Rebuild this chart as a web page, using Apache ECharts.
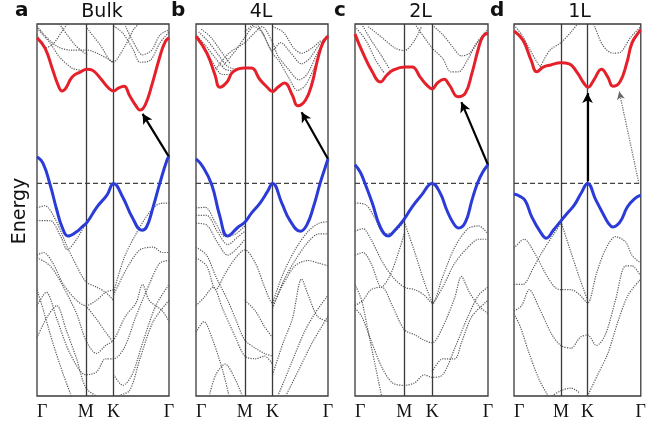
<!DOCTYPE html>
<html><head><meta charset="utf-8">
<script src="https://cdn.jsdelivr.net/npm/echarts@6/dist/echarts.min.js"></script>
<style>html,body{margin:0;padding:0;background:#fff}#c{width:649px;height:425px}</style>
</head><body><div id="c"></div>
<script>
// ---- axis / labels ----
const kPos = [0, 0.37, 0.58, 1];
const kLabels = ['Γ', 'M', 'K', 'Γ'];
const symLines = [0.37, 0.58];           // M and K high-symmetry positions
const panelLetters = ['a', 'b', 'c', 'd'];
const panelTitles = ['Bulk', '4L', '2L', '1L'];
const fermi = [[0, 0], [1, 0]];

// ---- conduction band (red) ----
const redA = [[0,2.74],[0.06,2.55],[0.12,2.13],[0.16,1.85],[0.19,1.74],[0.22,1.80],[0.265,2.0],[0.33,2.10],[0.38,2.15],[0.42,2.13],[0.48,1.98],[0.54,1.80],[0.58,1.74],[0.62,1.80],[0.66,1.83],[0.70,1.66],[0.75,1.46],[0.78,1.38],[0.82,1.48],[0.87,1.85],[0.93,2.38],[0.97,2.66],[1,2.74]];
const redB = [[0,2.77],[0.083,2.45],[0.144,2.04],[0.18,1.81],[0.235,1.91],[0.28,2.10],[0.37,2.17],[0.42,2.17],[0.485,1.95],[0.54,1.81],[0.58,1.73],[0.62,1.81],[0.67,1.89],[0.73,1.66],[0.77,1.46],[0.83,1.57],[0.88,1.89],[0.92,2.32],[0.96,2.64],[1,2.77]];
const redC = [[0,2.81],[0.06,2.45],[0.13,2.10],[0.19,1.91],[0.24,2.04],[0.285,2.13],[0.375,2.19],[0.43,2.19],[0.49,2.0],[0.54,1.85],[0.58,1.78],[0.62,1.89],[0.67,1.96],[0.71,1.85],[0.775,1.63],[0.83,1.70],[0.88,2.08],[0.925,2.51],[0.96,2.76],[1,2.83]];
const redD = [[0,2.87],[0.07,2.70],[0.135,2.32],[0.18,2.10],[0.23,2.19],[0.29,2.23],[0.37,2.27],[0.435,2.25],[0.50,2.08],[0.55,1.89],[0.585,1.81],[0.63,1.95],[0.69,2.15],[0.74,2.0],[0.78,1.83],[0.835,1.91],[0.89,2.27],[0.93,2.64],[0.985,2.85],[1,2.89]];

// ---- valence band (blue) ----
const blueA = [[0,0.50],[0.045,0.38],[0.10,-0.03],[0.15,-0.50],[0.19,-0.82],[0.235,-0.99],[0.30,-0.91],[0.34,-0.82],[0.38,-0.73],[0.455,-0.44],[0.53,-0.22],[0.58,0.0],[0.65,-0.26],[0.72,-0.63],[0.795,-0.88],[0.83,-0.82],[0.88,-0.44],[0.93,0.0],[0.985,0.44],[1,0.50]];
const blueB = [[0,0.46],[0.053,0.31],[0.12,-0.03],[0.18,-0.61],[0.24,-0.99],[0.32,-0.82],[0.37,-0.73],[0.42,-0.56],[0.485,-0.37],[0.54,-0.16],[0.58,0.0],[0.65,-0.37],[0.71,-0.69],[0.79,-0.90],[0.84,-0.78],[0.89,-0.44],[0.94,0.0],[0.98,0.31],[1,0.46]];
const blueC = [[0,0.35],[0.04,0.21],[0.075,0.0],[0.13,-0.37],[0.19,-0.82],[0.25,-0.99],[0.30,-0.88],[0.37,-0.67],[0.43,-0.44],[0.50,-0.22],[0.58,0.0],[0.64,-0.18],[0.69,-0.50],[0.74,-0.75],[0.78,-0.84],[0.83,-0.73],[0.88,-0.31],[0.92,0.0],[0.96,0.21],[1,0.35]];
const blueD = [[0,-0.20],[0.045,-0.24],[0.09,-0.33],[0.14,-0.63],[0.21,-0.92],[0.255,-1.03],[0.31,-0.88],[0.375,-0.69],[0.42,-0.56],[0.475,-0.41],[0.53,-0.18],[0.58,0.0],[0.645,-0.31],[0.70,-0.56],[0.745,-0.75],[0.78,-0.82],[0.835,-0.73],[0.895,-0.44],[0.95,-0.29],[1,-0.22]];

// ---- arrows (start, end) ----
const arrowA = [[1.0,0.50],[0.80,1.31]];
const arrowB = [[1.0,0.46],[0.80,1.34]];
const arrowC = [[1.0,0.35],[0.80,1.53]];
const arrowD = [[0.58,0.04],[0.58,1.70]];
const arrowD2 = [[0.985,0.0],[0.83,1.73]];

// ---- other bands (grey dotted) ----
const grayA = [
 [[0,2.92],[0.1,2.64],[0.17,2.38],[0.265,2.17],[0.33,2.13]],
 [[0,2.96],[0.076,2.74],[0.16,2.57],[0.25,2.51],[0.38,2.51],[0.48,2.42],[0.58,2.28]],
 [[0.17,3.0],[0.29,2.6],[0.38,2.42]],
 [[0.38,2.92],[0.48,2.6],[0.575,2.28],[0.67,2.6],[0.73,2.89],[0.77,3.0]],
 [[0.58,2.96],[0.65,2.83],[0.73,2.51],[0.78,2.28],[0.86,2.32],[0.93,2.64],[1,2.85]],
 [[0.67,2.96],[0.73,2.66],[0.8,2.42],[0.87,2.51],[0.93,2.79],[1,2.89]],
 [[0,2.8],[0.06,2.55],[0.12,2.62],[0.2,2.9],[0.23,3.0]],
 [[0,-0.46],[0.06,-0.42],[0.14,-0.68],[0.23,-1.2],[0.3,-1.55],[0.37,-1.85],[0.45,-1.95],[0.52,-2.05],[0.58,-2.2]],
 [[0,-0.7],[0.1,-0.7],[0.18,-1.0],[0.23,-1.25],[0.3,-1.05],[0.37,-0.75]],
 [[0.58,-2.05],[0.66,-1.4],[0.75,-0.95],[0.85,-0.55],[0.93,-0.38],[1,-0.37]],
 [[0.58,-2.1],[0.68,-1.6],[0.78,-1.25],[0.88,-1.2],[0.95,-1.3],[1,-1.3]],
 [[0,-1.35],[0.05,-1.3],[0.12,-1.5],[0.2,-1.9],[0.3,-2.2],[0.37,-2.3],[0.45,-2.2],[0.52,-2.05],[0.58,-2.0]],
 [[0,-1.4],[0.1,-1.55],[0.2,-1.95],[0.3,-2.45],[0.37,-2.95],[0.45,-3.2],[0.52,-3.05],[0.58,-2.95],[0.67,-2.5],[0.75,-2.25],[0.8,-1.9],[0.85,-2.2],[0.95,-2.4],[1,-2.6]],
 [[0,-2.3],[0.07,-2.05],[0.15,-2.55],[0.25,-3.2],[0.37,-3.6],[0.45,-3.55],[0.52,-3.3],[0.58,-3.3],[0.66,-3.1],[0.75,-2.5],[0.85,-1.9],[0.93,-1.5],[1,-1.45]],
 [[0,-2.9],[0.08,-2.5],[0.15,-2.3],[0.22,-2.75],[0.3,-3.3],[0.37,-3.85],[0.45,-4.0]],
 [[0,-2.0],[0.05,-2.4],[0.12,-3.0],[0.2,-3.6],[0.26,-4.0]],
 [[0.58,-3.6],[0.65,-3.8],[0.72,-3.6],[0.8,-3.0],[0.9,-2.3],[1,-1.9]],
 [[0.6,-4.0],[0.7,-3.9],[0.78,-3.3],[0.88,-2.6],[1,-2.2]],
 [[0.37,-2.3],[0.45,-2.55],[0.52,-2.8],[0.58,-3.0]]
];
const grayB = [
 [[0,2.76],[0.06,2.55],[0.12,2.3],[0.2,2.05],[0.26,2.05]],
 [[0,2.8],[0.07,2.6],[0.14,2.38],[0.22,2.15],[0.28,2.12]],
 [[0.02,2.85],[0.09,2.68],[0.16,2.45],[0.24,2.2],[0.3,2.15]],
 [[0.04,2.9],[0.11,2.76],[0.18,2.52],[0.26,2.25]],
 [[0.15,2.15],[0.25,2.45],[0.37,2.65],[0.45,2.85],[0.5,2.95],[0.58,2.65],[0.62,2.4],[0.7,2.15],[0.78,1.95],[0.84,2.05],[0.92,2.45],[1,2.78]],
 [[0.2,2.2],[0.3,2.5],[0.37,2.75],[0.44,2.95],[0.5,2.85],[0.58,2.5],[0.64,2.65],[0.72,2.45],[0.8,2.25],[0.86,2.35],[0.93,2.6],[1,2.8]],
 [[0.37,2.85],[0.45,3.0],[0.52,2.75],[0.58,2.45],[0.63,2.3],[0.7,2.0],[0.77,1.75],[0.83,1.85],[0.9,2.2]],
 [[0.58,2.95],[0.66,2.85],[0.74,2.55],[0.8,2.45],[0.88,2.55],[0.95,2.7]],
 [[0,-0.46],[0.07,-0.45],[0.15,-0.75],[0.22,-1.0],[0.3,-0.95],[0.37,-0.8]],
 [[0,-0.6],[0.08,-0.6],[0.16,-0.9],[0.24,-1.15],[0.32,-1.0],[0.37,-0.9]],
 [[0,-0.75],[0.08,-0.78],[0.16,-1.1],[0.24,-1.35],[0.32,-1.2],[0.37,-1.05]],
 [[0,-1.4],[0.08,-1.55],[0.15,-2.0],[0.22,-1.7],[0.3,-1.4],[0.37,-1.25],[0.45,-1.5],[0.52,-1.95],[0.58,-2.25],[0.66,-1.9],[0.75,-1.55],[0.85,-1.45],[0.93,-1.5],[1,-1.55]],
 [[0,-1.2],[0.08,-1.35],[0.15,-1.75],[0.24,-2.2],[0.3,-2.55],[0.37,-2.95],[0.45,-3.1],[0.52,-3.2],[0.58,-3.25]],
 [[0,-2.3],[0.06,-2.15],[0.13,-1.95],[0.2,-2.35],[0.3,-2.9],[0.37,-3.25],[0.45,-3.3],[0.52,-3.25],[0.58,-3.4]],
 [[0.58,-3.6],[0.66,-3.0],[0.73,-2.55],[0.8,-1.8],[0.85,-2.1],[0.92,-2.5],[1,-2.6]],
 [[0.58,-2.25],[0.66,-1.7],[0.75,-1.25],[0.85,-0.9],[0.93,-0.75],[1,-0.72]],
 [[0.58,-2.35],[0.66,-1.85],[0.75,-1.45],[0.85,-1.1],[0.93,-0.95],[1,-0.95]],
 [[0,-2.8],[0.06,-2.6],[0.12,-2.9],[0.2,-3.5],[0.25,-4.0]],
 [[0.62,-4.0],[0.72,-3.4],[0.82,-2.8],[0.9,-2.45],[1,-2.1]],
 [[0.68,-4.0],[0.78,-3.5],[0.88,-3.0],[1,-2.5]],
 [[0.37,-2.2],[0.45,-2.4],[0.52,-2.7],[0.58,-2.9]],
 [[0.1,-4.0],[0.15,-3.6],[0.22,-3.4],[0.3,-3.7],[0.35,-4.0]]
];
const grayC = [
 [[0,2.95],[0.08,2.7],[0.16,2.3],[0.22,2.08]],
 [[0.05,3.0],[0.12,2.7],[0.2,2.4],[0.26,2.15]],
 [[0.1,2.95],[0.2,2.75],[0.3,2.55],[0.37,2.5],[0.45,2.7],[0.5,2.95]],
 [[0.45,3.0],[0.52,2.75],[0.58,2.55],[0.66,2.35],[0.72,2.1],[0.78,2.1],[0.84,2.3],[0.92,2.65],[1,2.85]],
 [[0.58,2.98],[0.66,2.8],[0.74,2.55],[0.8,2.4],[0.86,2.45],[0.93,2.7],[1,2.9]],
 [[0,-0.37],[0.08,-0.4],[0.15,-0.65],[0.22,-0.95],[0.3,-0.9],[0.37,-0.72]],
 [[0.37,-0.72],[0.45,-1.3],[0.52,-1.85],[0.58,-2.25]],
 [[0,-0.9],[0.06,-0.85],[0.12,-1.05],[0.2,-1.45],[0.28,-1.75],[0.37,-1.95],[0.45,-2.0],[0.52,-2.1],[0.58,-2.25],[0.66,-1.75],[0.75,-1.2],[0.85,-0.85],[0.93,-0.8],[1,-0.95]],
 [[0,-1.35],[0.06,-1.3],[0.12,-1.5],[0.2,-1.95],[0.26,-1.75],[0.32,-1.35],[0.37,-0.95]],
 [[0,-2.3],[0.06,-2.2],[0.12,-2.0],[0.2,-1.95],[0.28,-2.3],[0.37,-2.75],[0.45,-2.85],[0.52,-2.95],[0.58,-3.0],[0.66,-2.7],[0.75,-2.15],[0.8,-1.75],[0.86,-2.05],[0.93,-2.3],[1,-2.45]],
 [[0,-2.35],[0.05,-2.5],[0.12,-2.95],[0.2,-3.45],[0.28,-3.75],[0.37,-3.8],[0.45,-3.75],[0.52,-3.6],[0.58,-3.65],[0.66,-3.6],[0.75,-3.1],[0.85,-2.5],[0.93,-2.1],[1,-1.95]],
 [[0.58,-3.55],[0.66,-3.3],[0.75,-3.3],[0.8,-3.0],[0.88,-2.5],[1,-2.2]],
 [[0,-1.9],[0.05,-2.2],[0.1,-2.8],[0.15,-3.4],[0.2,-4.0]],
 [[0.58,-2.3],[0.66,-1.95],[0.75,-1.5],[0.85,-1.2],[0.93,-1.05],[1,-1.05]]
];
const grayD = [
 [[0,2.98],[0.06,2.8],[0.13,2.5],[0.19,2.25],[0.22,2.18]],
 [[0.2,2.15],[0.28,2.5],[0.37,2.65],[0.45,2.85],[0.5,3.0]],
 [[0.63,3.0],[0.7,2.6],[0.78,2.45],[0.84,2.47],[0.92,2.75],[1,2.95]],
 [[0,-1.22],[0.08,-1.05],[0.16,-1.3],[0.25,-1.7],[0.32,-1.95],[0.37,-2.0],[0.45,-2.0],[0.52,-2.1],[0.58,-2.25],[0.65,-1.7],[0.72,-1.25],[0.8,-1.0],[0.88,-1.1],[0.93,-1.35],[1,-1.5]],
 [[0.37,-0.72],[0.45,-1.3],[0.52,-1.8],[0.58,-2.2]],
 [[0,-1.9],[0.07,-1.9],[0.15,-1.6],[0.22,-1.3],[0.3,-1.0],[0.37,-0.75]],
 [[0,-2.4],[0.06,-2.3],[0.12,-2.0],[0.2,-2.35],[0.3,-2.85],[0.37,-3.05],[0.45,-3.1],[0.52,-2.9],[0.58,-2.85],[0.65,-3.05],[0.72,-2.85],[0.8,-2.2],[0.88,-1.55],[0.93,-1.55],[1,-1.75]],
 [[0,-2.45],[0.05,-2.7],[0.12,-3.2],[0.2,-3.7],[0.27,-4.0]],
 [[0.58,-4.0],[0.66,-3.6],[0.74,-3.2],[0.82,-2.6],[0.9,-2.1],[1,-1.8]],
 [[0.3,-4.0],[0.37,-3.9],[0.45,-3.85],[0.52,-3.95]]
];

const panels = [
  {red: redA, blue: blueA, gray: grayA, arrows: [arrowA], dotted: []},
  {red: redB, blue: blueB, gray: grayB, arrows: [arrowB], dotted: []},
  {red: redC, blue: blueC, gray: grayC, arrows: [arrowC], dotted: []},
  {red: redD, blue: blueD, gray: grayD, arrows: [arrowD], dotted: [arrowD2]}
];
const gridLeft = [37, 196, 355, 514];
const gridWidth = [132, 132, 133, 133];

const chart = echarts.init(document.getElementById('c'), null, {renderer: 'canvas'});
const grids = [], xAxes = [], yAxes = [], series = [], graphics = [];
panels.forEach((p, i) => {
  grids.push({left: gridLeft[i], width: gridWidth[i], top: 24, height: 372, show: true,
    borderColor: '#3a3a3a', borderWidth: 1.3, backgroundColor: 'transparent', containLabel: false});
  xAxes.push({type: 'value', gridIndex: i, min: 0, max: 1,
    axisLine: {show: false}, axisTick: {show: false}, splitLine: {show: false},
    axisLabel: {show: true, customValues: kPos, margin: 7, alignMinLabel: 'left', alignMaxLabel: 'center',
      fontFamily: 'Liberation Serif', fontSize: 18, color: '#111',
      formatter: v => { const j = kPos.findIndex(k => Math.abs(k - v) < 1e-6); return j >= 0 ? kLabels[j] : ''; }}});
  yAxes.push({type: 'value', gridIndex: i, min: -4, max: 3, show: false});
  p.gray.forEach(b => series.push({type: 'line', xAxisIndex: i, yAxisIndex: i, data: b, smooth: 0.3,
    showSymbol: false, silent: true, z: 1, lineStyle: {color: '#5a5a5a', width: 1.2, type: 'dotted'}}));
  series.push({type: 'line', xAxisIndex: i, yAxisIndex: i, data: fermi, showSymbol: false, silent: true, z: 3,
    lineStyle: {color: '#444', width: 1.3, type: [5, 3]},
    markLine: {silent: true, symbol: 'none', label: {show: false},
      lineStyle: {color: '#3a3a3a', width: 1.3, type: 'solid'},
      data: symLines.map(v => ({xAxis: v}))}});
  series.push({type: 'line', xAxisIndex: i, yAxisIndex: i, data: p.red, smooth: 0.45, showSymbol: false,
    silent: true, z: 5, lineStyle: {color: '#e5202a', width: 3}});
  series.push({type: 'line', xAxisIndex: i, yAxisIndex: i, data: p.blue, smooth: 0.45, showSymbol: false,
    silent: true, z: 5, lineStyle: {color: '#2b3bd8', width: 3}});
  const ml = [];
  p.arrows.forEach(a => ml.push([{coord: a[0]}, {coord: a[1]}]));
  series.push({type: 'line', xAxisIndex: i, yAxisIndex: i, data: [], silent: true, z: 6,
    markLine: {silent: true, symbol: ['none', 'arrow'], symbolSize: [8, 10], label: {show: false},
      lineStyle: {color: '#000', width: 2.2, type: 'solid'}, data: ml}});
  if (p.dotted.length) {
    series.push({type: 'line', xAxisIndex: i, yAxisIndex: i, data: [], silent: true, z: 6,
      markLine: {silent: true, symbol: ['none', 'arrow'], symbolSize: [6, 8], label: {show: false},
        lineStyle: {color: '#666', width: 1.2, type: 'dotted'},
        data: p.dotted.map(a => [{coord: a[0]}, {coord: a[1]}])}});
  }
  graphics.push({type: 'text', x: gridLeft[i] + gridWidth[i] / 2 - 1, y: 12,
    style: {text: panelTitles[i], font: '19px "DejaVu Sans"', fill: '#111', align: 'center', verticalAlign: 'middle'}});
});
const letterX = [15, 171, 334, 490];
panelLetters.forEach((l, i) => graphics.push({type: 'text', x: letterX[i], y: 11,
  style: {text: l, font: 'bold 20px "DejaVu Sans"', fill: '#111', align: 'left', verticalAlign: 'middle'}}));
graphics.push({type: 'text', x: 20, y: 211, rotation: Math.PI / 2,
  style: {text: 'Energy', font: '19px "DejaVu Sans"', fill: '#111', align: 'center', verticalAlign: 'middle'}});

chart.setOption({animation: false, grid: grids, xAxis: xAxes, yAxis: yAxes, series: series, graphic: graphics});
</script></body></html>
